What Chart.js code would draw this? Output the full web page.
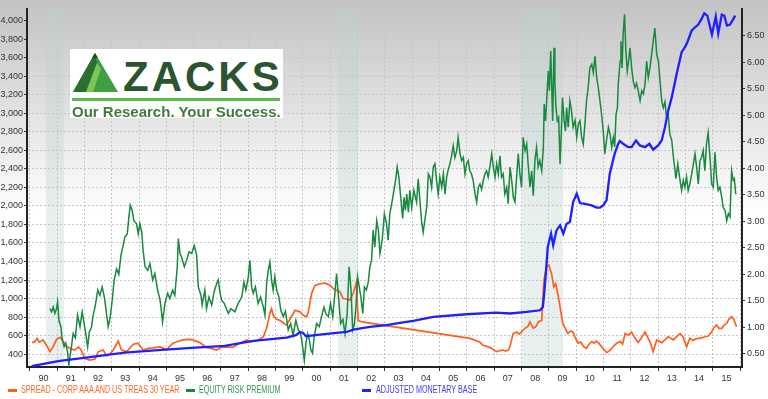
<!DOCTYPE html>
<html><head><meta charset="utf-8">
<script src="https://cdn.jsdelivr.net/npm/chart.js@4.4.1/dist/chart.umd.min.js"></script>
<style>
html,body{margin:0;padding:0;background:#fff;}
#wrap{position:relative;width:768px;height:399px;overflow:hidden;}
#c{position:absolute;left:0;top:0;}
#logo{position:absolute;left:70px;top:49px;width:213px;height:69px;background:#fff;}
#logo .zk{position:absolute;left:53px;top:7px;font:bold 42px/42px 'Liberation Sans',Arial,sans-serif;letter-spacing:3px;color:#2b5530;white-space:nowrap;}
#logo .rule{position:absolute;left:2px;top:49px;width:208px;height:3px;background:#58b947;}
#logo .tag{position:absolute;left:2px;top:55px;font:bold 15px/15px 'Liberation Sans',Arial,sans-serif;color:#3c7d3e;white-space:nowrap;}
.leg{position:absolute;top:385px;height:10px;font:10px/10px 'Liberation Sans',Arial,sans-serif;white-space:nowrap;transform:scaleX(0.72);transform-origin:0 0;}
.dash{position:absolute;top:389px;width:9px;height:3px;}
</style>
</head><body>
<div id="wrap">
<canvas id="c" width="768" height="399"></canvas>
<div id="logo">
  <svg width="46" height="40" style="position:absolute;left:3px;top:4px" viewBox="0 0 46 40">
    <polygon points="0,39 22,0 45,39" fill="#3f9d42"/>
    <polygon points="0,39 22,0 24,10 13,39" fill="#2a6f2f"/>
    <polygon points="13,39 24,10 28,16 20,39" fill="#7cc657"/>
    <polygon points="22,0 19,5 25,5" fill="#1e4d22"/>
  </svg>
  <div class="zk">ZACKS</div>
  <div class="rule"></div>
  <div class="tag">Our Research. Your Success.</div>
</div>
<div class="dash" style="left:8px;background:#ff5f1f"></div>
<div class="leg" style="left:21px;color:#ff6a2a">SPREAD - CORP AAA AND US TREAS 30 YEAR</div>
<div class="dash" style="left:186px;background:#18893f"></div>
<div class="leg" style="left:199px;color:#2f9a50">EQUITY RISK PREMIUM</div>
<div class="dash" style="left:362px;background:#1f1fff"></div>
<div class="leg" style="left:376px;color:#3b3bff">ADJUSTED MONETARY BASE</div>
</div>
<script>
// ---- tick labels / categories ----
const yearTicks = [1990,1991,1992,1993,1994,1995,1996,1997,1998,1999,2000,2001,2002,2003,2004,2005,2006,2007,2008,2009,2010,2011,2012,2013,2014,2015,2016];
const yearLabels = ['90','91','92','93','94','95','96','97','98','99','00','01','02','03','04','05','06','07','08','09','10','11','12','13','14','15'];
const leftTicks = [400,600,800,1000,1200,1400,1600,1800,2000,2200,2400,2600,2800,3000,3200,3400,3600,3800,4000];
const rightTicks = [0.5,1.0,1.5,2.0,2.5,3.0,3.5,4.0,4.5,5.0,5.5,6.0,6.5];
const recessions = [[1990.59,1991.25],[2001.28,2002.01],[2008.02,2009.52]];

// ---- Equity risk premium (right axis) ----
const ermYears = [
1990.74,1990.80,1990.86,1990.92,1990.98,1991.02,1991.07,1991.14,1991.19,1991.26,
1991.32,1991.39,1991.43,1991.51,1991.59,1991.67,1991.75,1991.84,1991.92,1991.98,
1992.06,1992.12,1992.18,1992.26,1992.31,1992.39,1992.49,1992.57,1992.65,1992.73,
1992.81,1992.87,1992.94,1993.02,1993.09,1993.18,1993.26,1993.34,1993.42,1993.48,
1993.57,1993.63,1993.68,1993.75,1993.81,1993.91,1993.97,1994.03,1994.10,1994.15,
1994.22,1994.32,1994.40,1994.50,1994.58,1994.68,1994.77,1994.83,1994.86,1994.95,
1995.05,1995.13,1995.23,1995.31,1995.40,1995.44,1995.50,1995.56,1995.66,1995.74,
1995.83,1995.93,1996.02,1996.11,1996.17,1996.27,1996.31,1996.41,1996.47,1996.56,
1996.66,1996.75,1996.84,1996.90,1996.96,1997.02,1997.12,1997.27,1997.36,1997.51,
1997.63,1997.76,1997.84,1997.91,1998.00,1998.06,1998.12,1998.18,1998.26,1998.36,
1998.45,1998.55,1998.61,1998.67,1998.73,1998.79,1998.85,1998.91,1998.97,1999.04,
1999.12,1999.19,1999.28,1999.36,1999.46,1999.55,1999.64,1999.74,1999.83,1999.91,
1999.99,2000.05,2000.11,2000.17,2000.24,2000.29,2000.35,2000.41,2000.50,2000.60,
2000.68,2000.77,2000.84,2000.93,2001.01,2001.09,2001.17,2001.23,2001.29,2001.38,
2001.46,2001.54,2001.62,2001.69,2001.76,2001.82,2001.88,2001.94,2002.00,2002.06,
2002.12,2002.19,2002.25,2002.32,2002.39,2002.45,2002.51,2002.57,2002.63,2002.70,
2002.76,2002.82,2002.90,2002.98,2003.06,2003.12,2003.18,2003.27,2003.33,2003.39,
2003.45,2003.51,2003.58,2003.65,2003.70,2003.75,2003.80,2003.86,2003.91,2003.98,
2004.06,2004.16,2004.22,2004.28,2004.34,2004.40,2004.46,2004.53,2004.59,2004.65,
2004.71,2004.77,2004.83,2004.89,2004.95,2005.01,2005.08,2005.14,2005.20,2005.26,
2005.32,2005.38,2005.44,2005.50,2005.56,2005.63,2005.68,2005.75,2005.81,2005.87,
2005.93,2005.99,2006.05,2006.11,2006.17,2006.23,2006.30,2006.36,2006.42,2006.48,
2006.54,2006.60,2006.66,2006.72,2006.78,2006.84,2006.91,2006.97,2007.03,2007.09,
2007.15,2007.21,2007.27,2007.33,2007.39,2007.46,2007.51,2007.58,2007.64,2007.70,
2007.76,2007.82,2007.88,2007.94,2008.00,2008.06,2008.13,2008.19,2008.25,2008.31,
2008.37,2008.43,2008.49,2008.55,2008.61,2008.67,2008.74,2008.80,2008.83,2008.88,
2008.92,2008.98,2009.02,2009.07,2009.10,2009.14,2009.19,2009.22,2009.26,2009.31,
2009.36,2009.41,2009.45,2009.50,2009.56,2009.61,2009.65,2009.71,2009.77,2009.83,
2009.89,2009.96,2010.02,2010.08,2010.14,2010.20,2010.26,2010.32,2010.38,2010.44,
2010.50,2010.57,2010.63,2010.69,2010.75,2010.81,2010.87,2010.93,2010.99,2011.05,
2011.11,2011.18,2011.24,2011.30,2011.36,2011.41,2011.46,2011.51,2011.54,2011.61,
2011.64,2011.68,2011.72,2011.77,2011.82,2011.87,2011.92,2011.97,2012.03,2012.09,
2012.15,2012.21,2012.27,2012.34,2012.40,2012.46,2012.52,2012.58,2012.64,2012.70,
2012.76,2012.82,2012.88,2012.95,2013.01,2013.07,2013.13,2013.19,2013.25,2013.31,
2013.37,2013.43,2013.50,2013.56,2013.62,2013.65,2013.72,2013.78,2013.86,2013.92,
2013.98,2014.04,2014.10,2014.16,2014.23,2014.29,2014.35,2014.41,2014.47,2014.53,
2014.59,2014.65,2014.71,2014.77,2014.83,2014.90,2014.96,2015.02,2015.08,2015.14,
2015.20,2015.26,2015.33,2015.38,2015.45,2015.51,2015.57,2015.63,2015.69,2015.75,2015.79,2015.84];
const ermValues = [
1.35,1.29,1.38,1.26,1.35,1.48,1.13,1.01,0.76,0.63,
0.70,0.51,0.29,0.57,0.88,0.80,1.23,1.01,1.29,1.10,
0.85,0.63,0.91,1.00,1.20,1.38,1.70,1.60,1.76,1.57,
1.26,1.01,1.17,1.51,1.89,2.10,2.00,2.36,2.54,2.70,
2.76,3.08,3.30,3.20,3.01,2.95,2.76,2.95,2.79,2.45,
2.14,2.07,2.20,1.89,2.01,1.70,1.51,1.26,1.10,1.45,
1.64,1.54,1.70,1.60,2.14,2.67,2.39,2.32,2.14,2.26,
2.42,2.39,2.54,2.36,1.76,1.60,1.42,1.70,1.35,1.57,
1.42,1.67,1.82,1.89,1.67,1.51,1.45,1.26,1.35,1.29,
1.45,1.57,1.85,1.70,1.95,2.26,1.76,1.64,1.76,1.45,
1.57,1.38,1.23,1.82,2.07,2.23,1.89,1.70,1.95,1.70,
1.57,1.32,1.20,1.30,0.95,1.07,0.85,1.13,0.95,0.90,
0.63,0.38,0.70,0.88,0.75,0.57,0.51,0.82,1.07,1.01,
1.20,1.38,1.25,1.20,1.45,1.20,1.64,2.01,1.64,1.07,
1.15,0.88,1.26,2.14,1.70,0.95,1.05,1.38,1.95,1.76,
1.57,1.26,1.76,1.70,1.85,2.14,2.26,2.83,2.51,3.01,
2.83,2.39,2.64,3.14,2.95,2.64,3.14,3.39,3.58,3.77,
4.02,3.83,3.45,3.05,3.45,3.20,3.51,3.17,3.58,3.26,
3.58,3.36,3.80,3.39,3.01,2.79,3.01,3.26,3.89,3.83,
3.64,4.02,4.08,3.77,3.51,3.83,3.64,3.89,3.51,3.83,
3.98,4.08,4.23,4.42,4.20,4.33,4.58,4.27,4.14,4.20,
3.89,4.08,4.14,3.95,3.89,3.77,3.51,3.36,3.64,3.70,
3.60,3.77,3.89,3.95,3.83,4.02,4.27,4.02,3.83,4.08,
3.89,4.23,3.83,3.89,3.51,3.64,3.33,4.02,3.77,3.45,
3.36,3.83,4.27,3.89,3.64,4.58,4.33,4.45,4.02,3.64,
3.95,3.48,4.14,4.39,4.02,4.14,3.95,4.39,5.21,4.89,
5.27,5.83,5.46,6.21,5.64,4.89,6.27,5.64,5.14,4.89,
4.95,4.08,4.58,5.33,4.89,4.70,5.14,4.77,5.27,5.08,
4.77,4.90,4.58,4.83,4.89,4.58,4.45,4.83,5.27,5.52,
5.89,5.96,5.80,6.11,5.71,5.52,5.27,5.02,4.70,4.27,
4.52,4.77,4.64,4.39,4.58,4.40,5.02,5.14,5.58,6.02,
6.39,5.89,6.52,6.90,6.21,5.83,6.02,6.27,5.89,5.64,
5.52,5.60,5.46,5.27,5.46,5.40,5.58,6.02,5.71,5.89,
6.14,6.39,6.64,6.14,6.02,5.64,5.27,5.14,5.25,4.95,
5.00,4.64,4.52,4.20,3.95,3.80,4.08,3.85,3.58,3.77,
3.64,3.83,3.58,3.70,3.89,4.08,4.27,4.02,3.70,4.14,
4.20,4.33,3.95,4.45,4.67,4.20,3.70,3.64,4.30,3.83,
3.58,3.64,3.45,3.26,3.20,3.01,3.14,3.08,3.95,3.77,3.80,3.51];

// ---- Spread Corp AAA vs US Treasury 30y (right axis) ----
const spreadYears = [
1990.09,1990.19,1990.27,1990.35,1990.43,1990.49,1990.59,1990.68,1990.74,1990.86,
1990.98,1991.11,1991.20,1991.31,1991.47,1991.65,1991.78,1991.87,1992.02,1992.20,
1992.39,1992.51,1992.69,1992.81,1992.94,1993.06,1993.24,1993.36,1993.55,1993.79,
1993.96,1994.15,1994.33,1994.51,1994.77,1995.01,1995.24,1995.42,1995.61,1995.79,
1995.97,1996.23,1996.47,1996.63,1996.84,1997.00,1997.21,1997.44,1997.69,1997.94,
1998.10,1998.31,1998.55,1998.67,1998.79,1998.85,1998.91,1999.03,1999.16,1999.28,
1999.40,1999.52,1999.71,1999.89,2000.02,2000.14,2000.20,2000.32,2000.44,2000.62,
2000.81,2000.99,2001.13,2001.35,2001.47,2001.61,2001.72,2001.85,2001.96,2002.02,
2002.15,2006.11,2006.22,2006.37,2006.47,2006.59,2006.72,2006.83,2006.91,2006.99,
2007.09,2007.21,2007.32,2007.43,2007.54,2007.61,2007.69,2007.82,2007.91,2008.02,
2008.13,2008.24,2008.31,2008.43,2008.54,2008.61,2008.74,2008.82,2008.92,2009.00,
2009.10,2009.18,2009.25,2009.33,2009.42,2009.51,2009.60,2009.70,2009.79,2009.88,
2009.97,2010.07,2010.17,2010.28,2010.38,2010.47,2010.57,2010.65,2010.74,2010.83,
2010.93,2011.02,2011.12,2011.20,2011.30,2011.38,2011.48,2011.61,2011.70,2011.79,
2011.90,2012.03,2012.15,2012.27,2012.39,2012.52,2012.63,2012.74,2012.82,2012.95,
2013.03,2013.13,2013.25,2013.37,2013.47,2013.55,2013.67,2013.80,2013.91,2014.04,
2014.16,2014.27,2014.38,2014.49,2014.60,2014.71,2014.82,2014.96,2015.04,2015.14,
2015.23,2015.33,2015.41,2015.51,2015.59,2015.69,2015.76,2015.87];
const spreadValues = [
0.71,0.73,0.79,0.72,0.74,0.76,0.68,0.60,0.54,0.63,
0.77,0.81,0.76,0.66,0.60,0.57,0.63,0.58,0.41,0.38,
0.40,0.54,0.57,0.46,0.50,0.57,0.74,0.57,0.54,0.68,
0.70,0.57,0.60,0.61,0.63,0.58,0.70,0.73,0.76,0.77,
0.76,0.71,0.62,0.60,0.57,0.62,0.63,0.62,0.70,0.76,
0.73,0.74,0.82,0.98,1.26,1.35,1.23,1.15,1.13,1.08,
1.04,1.15,1.32,1.29,1.22,1.20,1.30,1.64,1.79,1.82,
1.83,1.79,1.72,1.67,1.54,1.53,1.51,1.65,1.85,1.13,
1.10,0.79,0.77,0.74,0.72,0.66,0.64,0.62,0.60,0.57,
0.54,0.56,0.57,0.55,0.58,0.70,0.88,0.91,0.87,0.92,
0.98,1.02,1.10,0.98,1.02,1.10,1.13,1.89,2.14,2.17,
2.01,1.76,1.82,1.63,1.35,1.07,0.98,0.88,0.93,0.91,
0.80,0.70,0.72,0.63,0.60,0.68,0.73,0.70,0.74,0.70,
0.63,0.58,0.52,0.55,0.60,0.65,0.70,0.73,0.68,0.88,
0.85,0.91,0.80,0.71,0.80,0.91,0.80,0.68,0.54,0.76,
0.74,0.71,0.76,0.82,0.79,0.76,0.82,0.88,0.82,0.63,
0.79,0.75,0.78,0.79,0.80,0.82,0.83,0.91,0.99,1.04,
0.98,0.98,1.04,1.07,1.15,1.20,1.16,1.01];

// ---- Adjusted monetary base (left axis) ----
const baseYears = [
1990.07,1991.04,1992.27,1993.48,1994.70,1995.93,1997.14,1998.18,1999.40,1999.74,
1999.89,2000.00,2000.11,2000.62,2001.23,2001.60,2001.84,2002.45,2003.06,2003.55,
2004.04,2004.77,2005.99,2007.05,2007.58,2008.19,2008.68,2008.78,2008.83,2008.90,
2008.96,2009.02,2009.08,2009.16,2009.28,2009.41,2009.53,2009.65,2009.77,2009.89,
2010.02,2010.14,2010.32,2010.57,2010.75,2010.87,2010.99,2011.11,2011.23,2011.41,
2011.54,2011.60,2011.72,2011.90,2012.03,2012.19,2012.33,2012.52,2012.68,2012.82,
2013.00,2013.13,2013.25,2013.37,2013.50,2013.68,2013.86,2013.98,2014.07,2014.23,
2014.35,2014.47,2014.59,2014.69,2014.80,2014.97,2015.11,2015.20,2015.33,2015.42,
2015.52,2015.63,2015.74,2015.82];
const baseValues = [
271,325,371,418,443,468,490,543,580,605,
637,632,594,612,630,640,666,694,713,737,
759,802,831,849,839,856,874,910,1054,1305,
1556,1629,1701,1575,1736,1790,1701,1808,1826,2041,
2132,2031,2023,2005,1981,1981,2005,2060,2347,2563,
2670,2699,2670,2634,2634,2706,2652,2634,2670,2606,
2652,2706,2849,3029,3173,3425,3658,3712,3766,3892,
3927,3956,4017,4078,4053,3848,4042,3859,4064,4053,
3945,3956,4010,4053];

const pts = (xs, ys) => xs.map((x, i) => ({x, y: ys[i]}));

const bgPlugin = {
  id: 'bg',
  beforeDraw(chart) {
    const {ctx, width, height, chartArea, scales} = chart;
    ctx.save();
    const g = ctx.createLinearGradient(0, 0, 0, 215);
    g.addColorStop(0, '#c3c3c3');
    g.addColorStop(1, '#ffffff');
    ctx.fillStyle = g;
    ctx.fillRect(0, 0, width, height);
    ctx.fillStyle = 'rgba(185,212,206,0.35)';
    recessions.forEach(([a, b]) => {
      const x1 = scales.x.getPixelForValue(a), x2 = scales.x.getPixelForValue(b);
      ctx.fillRect(x1, chartArea.top, x2 - x1, chartArea.bottom - chartArea.top);
    });
    ctx.restore();
  }
};

const tickFont = {family: "'Liberation Sans',Arial,sans-serif", size: 9};

new Chart(document.getElementById('c'), {
  type: 'line',
  data: {
    datasets: [
      {label: 'ADJUSTED MONETARY BASE', data: pts(baseYears, baseValues), yAxisID: 'yL',
       borderColor: '#1f1fff', borderWidth: 2.3, pointRadius: 0, tension: 0, order: 0},
      {label: 'EQUITY RISK PREMIUM', data: pts(ermYears, ermValues), yAxisID: 'yR',
       borderColor: '#18893f', borderWidth: 1.5, pointRadius: 0, tension: 0, order: 1},
      {label: 'SPREAD - CORP AAA AND US TREAS 30 YEAR', data: pts(spreadYears, spreadValues), yAxisID: 'yR',
       borderColor: '#ff5f1f', borderWidth: 1.7, pointRadius: 0, tension: 0, order: 2}
    ]
  },
  options: {
    responsive: false, animation: false, devicePixelRatio: 1,
    layout: {padding: {top: 9, left: 0, right: 0, bottom: 0}},
    plugins: {legend: {display: false}, tooltip: {enabled: false}},
    scales: {
      x: {
        type: 'linear', position: 'bottom', min: 1989.9, max: 2016.07,
        afterBuildTicks: s => { s.ticks = yearTicks.map(v => ({value: v})); },
        afterFit: s => { s.height = 32; },
        grid: {color: '#c6c6c6', lineWidth: 1, drawTicks: true, tickLength: 4, tickColor: '#333', tickWidth: 1},
        border: {display: true, color: '#222', width: 2, dash: [2, 2]},
        ticks: {labelOffset: 13.66, padding: 2, maxRotation: 0, autoSkip: false, font: tickFont, color: '#333',
                callback: (v, i) => yearLabels[i] ?? ''}
      },
      yL: {
        type: 'linear', position: 'left', min: 262, max: 4124,
        afterBuildTicks: s => { s.ticks = leftTicks.map(v => ({value: v})); },
        afterFit: s => { s.width = 27; },
        grid: {color: '#c6c6c6', lineWidth: 1, drawTicks: true, tickLength: 3, tickColor: '#333'},
        border: {display: true, color: '#222', width: 2, dash: [2, 2]},
        ticks: {padding: 1, font: tickFont, color: '#333', callback: v => v.toLocaleString('en-US')}
      },
      yR: {
        type: 'linear', position: 'right', min: 0.25, max: 7.0,
        afterBuildTicks: s => { s.ticks = rightTicks.map(v => ({value: v})); },
        afterFit: s => { s.width = 26; },
        grid: {drawOnChartArea: false, drawTicks: true, tickLength: 3, tickColor: '#333'},
        border: {display: true, color: '#222', width: 2},
        ticks: {padding: 2, font: tickFont, color: '#333', callback: v => v.toFixed(2)}
      }
    }
  },
  plugins: [bgPlugin]
});
</script>
</body></html>
